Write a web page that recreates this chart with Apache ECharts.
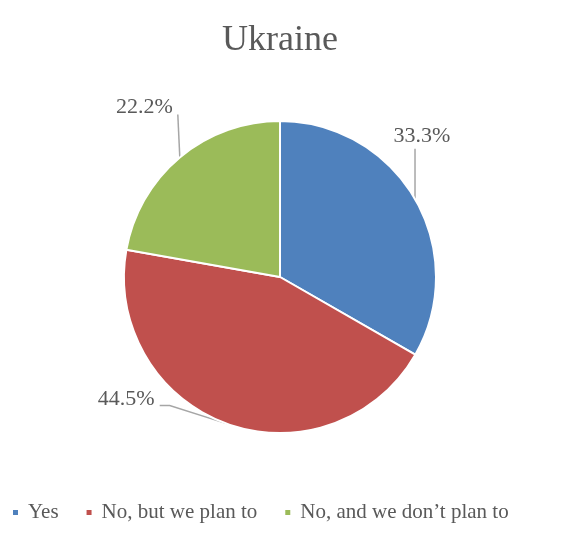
<!DOCTYPE html>
<html>
<head>
<meta charset="utf-8">
<script src="https://cdn.jsdelivr.net/npm/echarts@6/dist/echarts.min.js"></script>
<style>
  html, body { margin: 0; padding: 0; background: #fff; }
  #chart { width: 570px; height: 538px; }
</style>
</head>
<body>
<div id="chart"></div>
<script>
const categories = ["Yes", "No, but we plan to", "No, and we don\u2019t plan to"];
const shares = [33.3, 44.5, 22.2];
const sliceColors = ["#4F81BD", "#C0504D", "#9BBB59"];

// leader line shape per slice: bend offset from the pie edge, then tail, label side
const leaders = [
  { bend: [0, -50], tail: [0, 0], align: "center", dx: 7, dy: -13 },
  { bend: [-57, -18], tail: [-10, 0], align: "right", dx: -5, dy: -6 },
  { bend: [-2, -43], tail: [0, 0], align: "right", dx: -5, dy: -7 },
];

const serif = "'Liberation Serif', 'Times New Roman', serif";
const textGrey = "#595959";

const chart = echarts.init(document.getElementById("chart"));
chart.setOption({
  animation: false,
  title: {
    text: "Ukraine",
    left: 217,
    top: 18,
    textStyle: { fontFamily: serif, fontSize: 36, fontWeight: "normal", color: textGrey },
  },
  legend: {
    top: 497,
    left: 6,
    icon: "rect",
    itemWidth: 7,
    itemHeight: 7,
    itemGap: 26,
    data: categories,
    textStyle: { fontFamily: serif, fontSize: 21, color: textGrey, padding: [0, 0, 0, 4] },
  },
  series: [
    {
      type: "pie",
      center: [280, 277],
      radius: 156,
      startAngle: 90,
      clockwise: true,
      avoidLabelOverlap: false,
      data: categories.map((name, i) => ({
        name,
        value: shares[i],
        itemStyle: { color: sliceColors[i] },
      })),
      itemStyle: { borderColor: "#fff", borderWidth: 2 },
      label: {
        show: true,
        position: "outside",
        formatter: (p) => p.value.toFixed(1) + "%",
        fontFamily: serif,
        fontSize: 22,
        color: textGrey,
      },
      labelLine: {
        show: true,
        length: 20,
        length2: 10,
        lineStyle: { color: "#A6A6A6", width: 1.5 },
      },
      labelLayout: (params) => {
        const L = leaders[params.dataIndex];
        const edge = params.labelLinePoints[0];
        const bend = [edge[0] + L.bend[0], edge[1] + L.bend[1]];
        const end = [bend[0] + L.tail[0], bend[1] + L.tail[1]];
        return {
          x: end[0] + L.dx,
          y: end[1] + L.dy,
          align: L.align,
          verticalAlign: "middle",
          labelLinePoints: [edge, bend, end],
        };
      },
    },
  ],
});
</script>
</body>
</html>
